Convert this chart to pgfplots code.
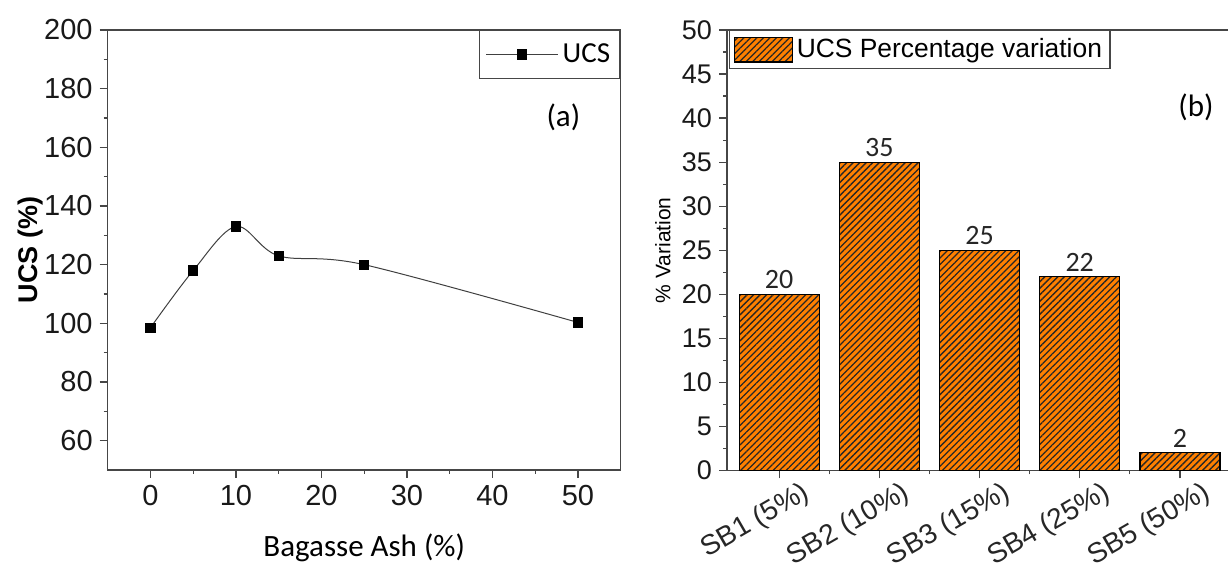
\documentclass[border=0pt]{standalone}
\usepackage{fontspec}
\setmainfont{Liberation Sans}
\newfontfamily\calibri{Carlito}
\usepackage{pgfplots}
\pgfplotsset{compat=1.18}
\usetikzlibrary{patterns.meta}

\definecolor{barorange}{RGB}{255,128,0}
\definecolor{spine}{RGB}{70,70,70}

\pgfplotsset{
  panel/.style={
    scale only axis,
    anchor=south west,
    tick align=outside,
    tick pos=left,
    major tick length=4pt,
    minor tick length=2pt,
    axis line style={spine, line width=0.75pt},
    every tick/.style={spine, line width=0.6pt},
    /pgf/number format/assume math mode=true,
    clip=false,
  },
}

\begin{document}
\begin{tikzpicture}
% (a) UCS against bagasse ash content
\begin{axis}[
  panel,
  at={(53.85pt,48.5pt)},
  width=256.5pt, height=220pt,
  xmin=-5, xmax=55, ymin=50, ymax=200,
  xtick={0,10,...,50}, ytick={60,80,...,200},
  minor xtick={5,15,...,45},
  minor ytick={70,90,...,190},
  tick label style={font=\fontsize{14.5}{14.5}\selectfont, black!90},
  xlabel={\calibri\fontsize{15.5}{16}\selectfont Bagasse Ash (\%)},
  xlabel style={at={(axis description cs:0.5,-0.177)}, anchor=center},
  ylabel={\bfseries\fontsize{13.5}{14}\selectfont UCS (\%)},
  ylabel style={at={(axis description cs:-0.151,0.5)}, anchor=center, rotate=0},
  legend style={at={(1,1)}, anchor=north east, draw=spine, line width=0.6pt,
    font=\calibri\fontsize{14.5}{14.5}\selectfont, inner xsep=3pt, inner ysep=4.5pt},
  legend cell align=left,
  legend image code/.code={%
    \draw[#1, mark repeat=2, mark phase=2] plot coordinates {(0pt,0pt) (18pt,0pt) (36pt,0pt)};},
]
\addplot[smooth, tension=0.55, color=black!75, line width=0.5pt,
  mark=square*, mark size=2.3pt, mark options={fill=black, draw=black}]
  coordinates {(0,98.5) (5,118) (10,133) (15,123) (25,120) (50,100.3)};
\addlegendentry{UCS}
\node[font=\calibri\fontsize{15.5}{16}\selectfont] at (axis cs:48.3,170.3) {(a)};
\end{axis}

% (b) percentage variation of UCS for each mix
\begin{axis}[
  panel,
  at={(363.5pt,48.25pt)},
  width=252.5pt, height=220.25pt,
  ybar, bar width=40pt,
  xmin=-0.52, xmax=4.52, ymin=0, ymax=50,
  xtick={0,1,2,3,4},
  xticklabels={SB1 (5\%), SB2 (10\%), SB3 (15\%), SB4 (25\%), SB5 (50\%)},
  minor xtick={0.5,1.5,2.5,3.5},
  ytick={0,5,...,50},
  minor ytick={2.5,7.5,...,47.5},
  yticklabel style={font=\fontsize{13.5}{13.5}\selectfont, black!90},
  xticklabel style={font=\fontsize{14}{14}\selectfont, black!85, rotate=30,
    anchor=north east, xshift=12.5pt, yshift=-2.5pt},
  ylabel={\fontsize{10.5}{11}\selectfont \% Variation},
  ylabel style={at={(axis description cs:-0.127,0.5)}, anchor=center},
  nodes near coords,
  every node near coord/.append style={font=\calibri\fontsize{14}{14}\selectfont, black!85, yshift=-1pt},
  legend style={at={(0,1)}, anchor=north west, xshift=1pt, draw=spine, line width=0.6pt,
    font=\fontsize{13.2}{13.2}\selectfont, inner xsep=2pt, inner ysep=2pt},
  legend cell align=left,
  legend image code/.code={%
    \draw[#1] (0pt,-6.2pt) rectangle (29pt,6.2pt);},
]
\addplot[fill=barorange, draw=black, line width=0.6pt,
  postaction={pattern={Lines[angle=45, distance=2.3pt, line width=0.65pt]}, pattern color=black!85}]
  coordinates {(0,20) (1,35) (2,25) (3,22) (4,2)};
\addlegendentry{UCS Percentage variation}
\node[font=\calibri\fontsize{15.5}{16}\selectfont] at (axis cs:4.16,41.26) {(b)};
\end{axis}

\pgfresetboundingbox
\path[use as bounding box] (0,0) rectangle (614pt,283.5pt);
\end{tikzpicture}
\end{document}
